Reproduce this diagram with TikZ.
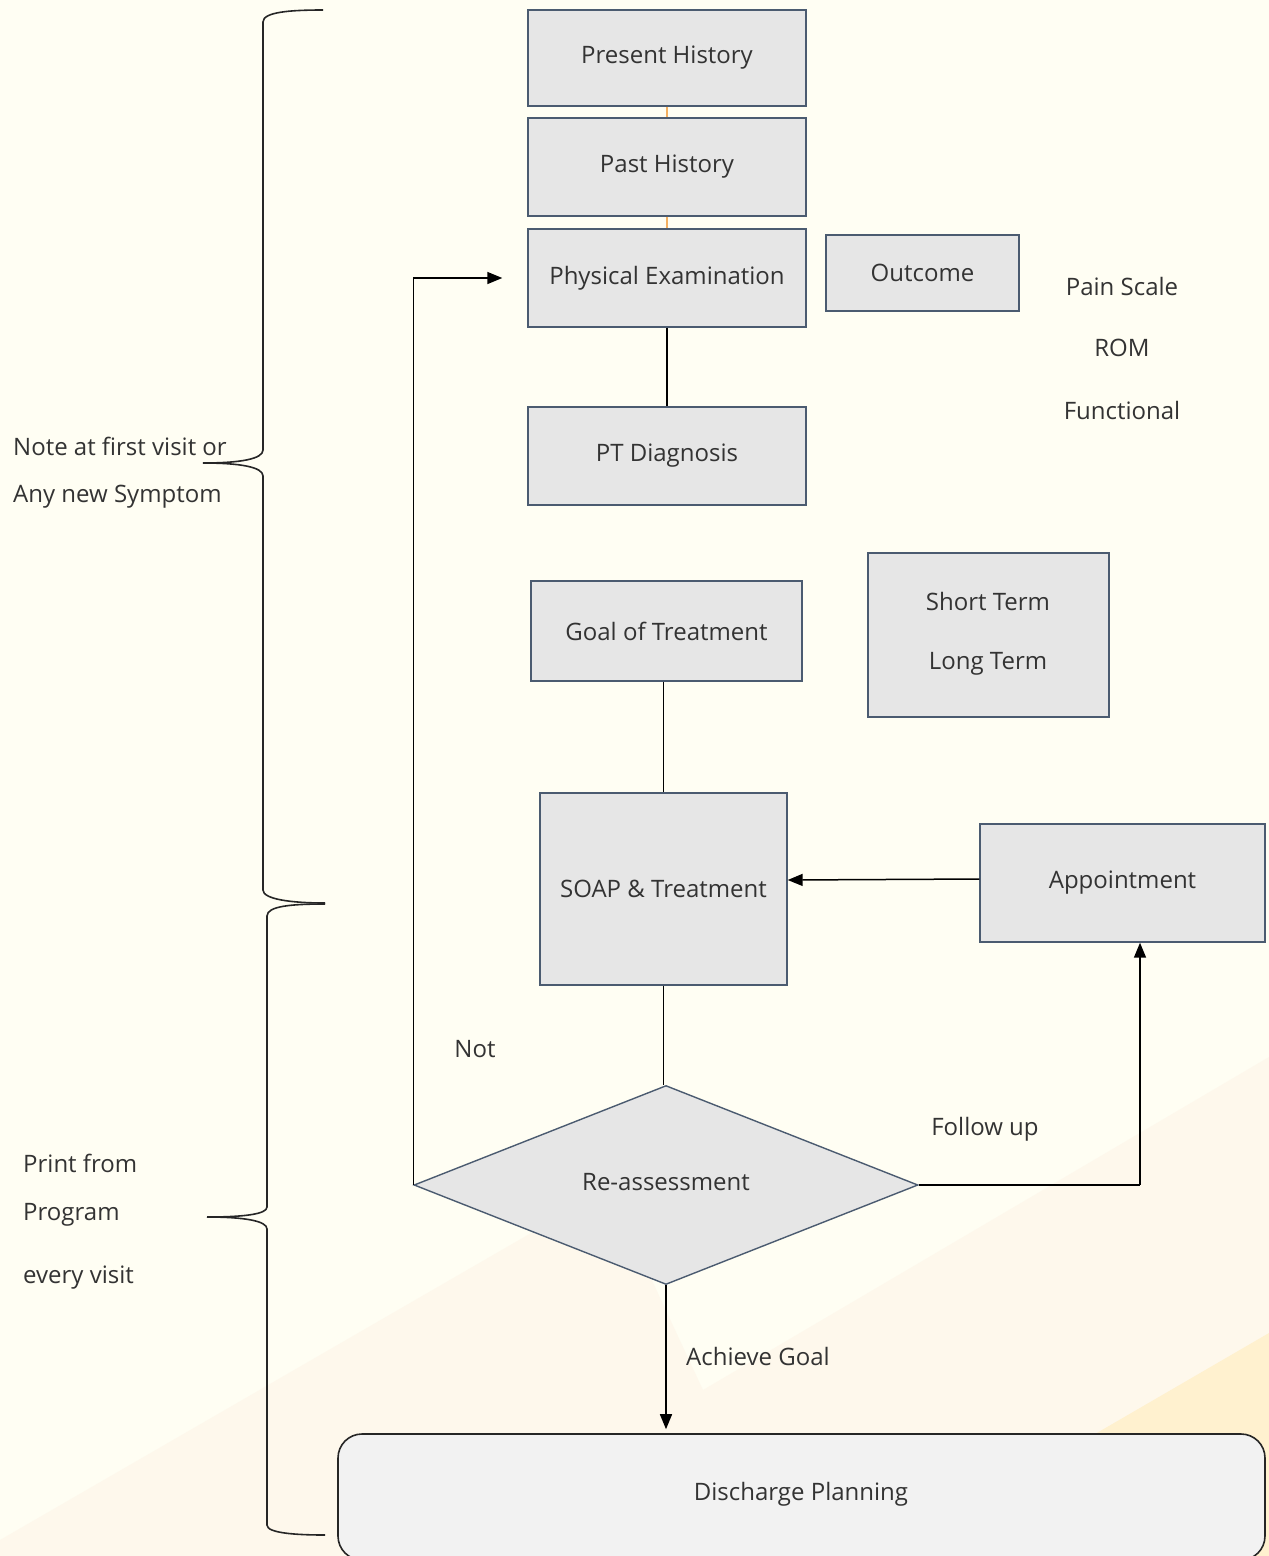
\documentclass[tikz,border=0pt]{standalone}
\usepackage{fontspec}
\setmainfont{Open Sans}
\usetikzlibrary{arrows.meta,shapes.geometric}
\definecolor{bgcream}{HTML}{FFFEF3}
\definecolor{bgpeach}{HTML}{FEF8EC}
\definecolor{bgyellow}{HTML}{FFF1CF}
\definecolor{boxfill}{HTML}{E6E6E6}
\definecolor{boxline}{HTML}{4B5B70}
\definecolor{txt}{HTML}{333333}
\definecolor{orangeln}{HTML}{F5B060}
\tikzset{
  box/.style={draw=boxline, fill=boxfill, line width=1.4pt, inner sep=0pt, text=txt, font=\fontsize{24}{29}\selectfont},
  lbl/.style={text=txt, font=\fontsize{24}{29}\selectfont, inner sep=0pt},
  conn/.style={draw=black, line width=1.5pt},
  arr/.style={conn, -{Triangle[length=15pt,width=12pt]}},
  brace/.style={draw=black!85, line width=1.6pt}
}
\begin{document}
\begin{tikzpicture}[x=1pt,y=-1pt]
\useasboundingbox (0,0) rectangle (1269,1556);
% background
\fill[bgcream] (0,0) rectangle (1269,1556);
\fill[bgpeach] (0,1540) -- (609,1188) -- (703,1390) -- (1269,1057) -- (1269,1556) -- (0,1556) -- cycle;
\fill[bgyellow] (1269,1333) -- (885,1556) -- (1269,1556) -- cycle;

% nodes
\node[box, minimum width=278pt, minimum height=96pt] (PH) at (667,58) {Present History};
\node[box, minimum width=278pt, minimum height=98pt] (PaH) at (667,167) {Past History};
\node[box, minimum width=278pt, minimum height=98pt] (PE) at (667,278) {Physical Examination};
\node[box, minimum width=193pt, minimum height=76pt] (OC) at (922.5,273) {Outcome};
\node[lbl] (PS) at (1122,286) {Pain Scale};
\node[lbl] (ROM) at (1122,348) {ROM};
\node[lbl] (FN) at (1122,410) {Functional};
\node[box, minimum width=278pt, minimum height=98pt] (PTD) at (667,456) {PT Diagnosis};
\node[box, minimum width=271pt, minimum height=100pt] (GT) at (666.5,631) {Goal of Treatment};
\node[box, minimum width=241pt, minimum height=164pt] (SL) at (988.5,635) {};
\node[lbl] (ST) at (988,601) {Short Term};
\node[lbl] (LT) at (988,664) {Long Term};
\node[box, minimum width=247pt, minimum height=192pt] (SOAP) at (663.5,889) {SOAP \& Treatment};
\node[box, minimum width=285pt, minimum height=118pt] (APP) at (1122.5,883) {Appointment};
\node[box, diamond, aspect=2.53, minimum width=504pt, minimum height=199pt] (RA) at (666,1185) {};
\node[lbl] (RAt) at (666,1182) {Re-assessment};
\node[draw=black!85, fill=black!5, line width=1.6pt, rounded corners=24pt, minimum width=927pt, minimum height=126pt, inner sep=0pt] (DP) at (801.5,1497) {};
\node[lbl] (DPt) at (801,1494) {Discharge Planning};

\node[lbl] (NOT) at (475,1049) {Not};
\node[lbl] (FU) at (985,1129) {Follow up};
\node[lbl, anchor=west] (AG) at (686,1356) {Achieve Goal};

\node[lbl, anchor=west] (N1) at (13,446) {Note at first visit or};
\node[lbl, anchor=west] (N2) at (13,497) {Any new Symptom};
\node[lbl, anchor=west] (P1) at (23,1163) {Print from};
\node[lbl, anchor=west] (P2) at (23,1215) {Program};
\node[lbl, anchor=west] (P3) at (23,1278) {every visit};

% connectors
\draw[draw=orangeln, line width=1.6pt] (PH.south) -- (PaH.north);
\draw[draw=orangeln, line width=1.6pt] (PaH.south) -- (PE.north);
\draw[conn] (PE.south) -- (PTD.north);
\draw[conn] (SOAP.north |- GT.south) -- (SOAP.north);
\draw[conn] (SOAP.south) -- (SOAP.south |- RA.north);
\draw[arr] ([yshift=4pt]APP.west) -- ([yshift=9pt]SOAP.east);
\coordinate (fu) at (1140,1185);
\draw[conn] (RA.east) -- (fu);
\draw[arr] (fu) -- (fu |- APP.south);
\coordinate (pein) at ([xshift=-25pt]PE.west);
\draw[arr] (RA.west) -- (RA.west |- PE.west) -- (pein);
\draw[arr] (RA.south) -- ([yshift=4pt]RA.south |- DP.north);

% braces
\draw[brace] (323,10) .. controls (290,10) and (263,12) .. (263,22) -- (263,450)
  .. controls (263,459) and (240,463) .. (203,463)
  .. controls (240,463) and (263,467) .. (263,476) -- (263,890)
  .. controls (263,899) and (290,903) .. (325,903);
\draw[brace] (325,904) .. controls (292,904) and (267,906) .. (267,916) -- (267,1207)
  .. controls (267,1214) and (245,1217) .. (207,1217)
  .. controls (245,1217) and (267,1221) .. (267,1229) -- (267,1525)
  .. controls (267,1533) and (295,1535) .. (325,1535);
\end{tikzpicture}
\end{document}
